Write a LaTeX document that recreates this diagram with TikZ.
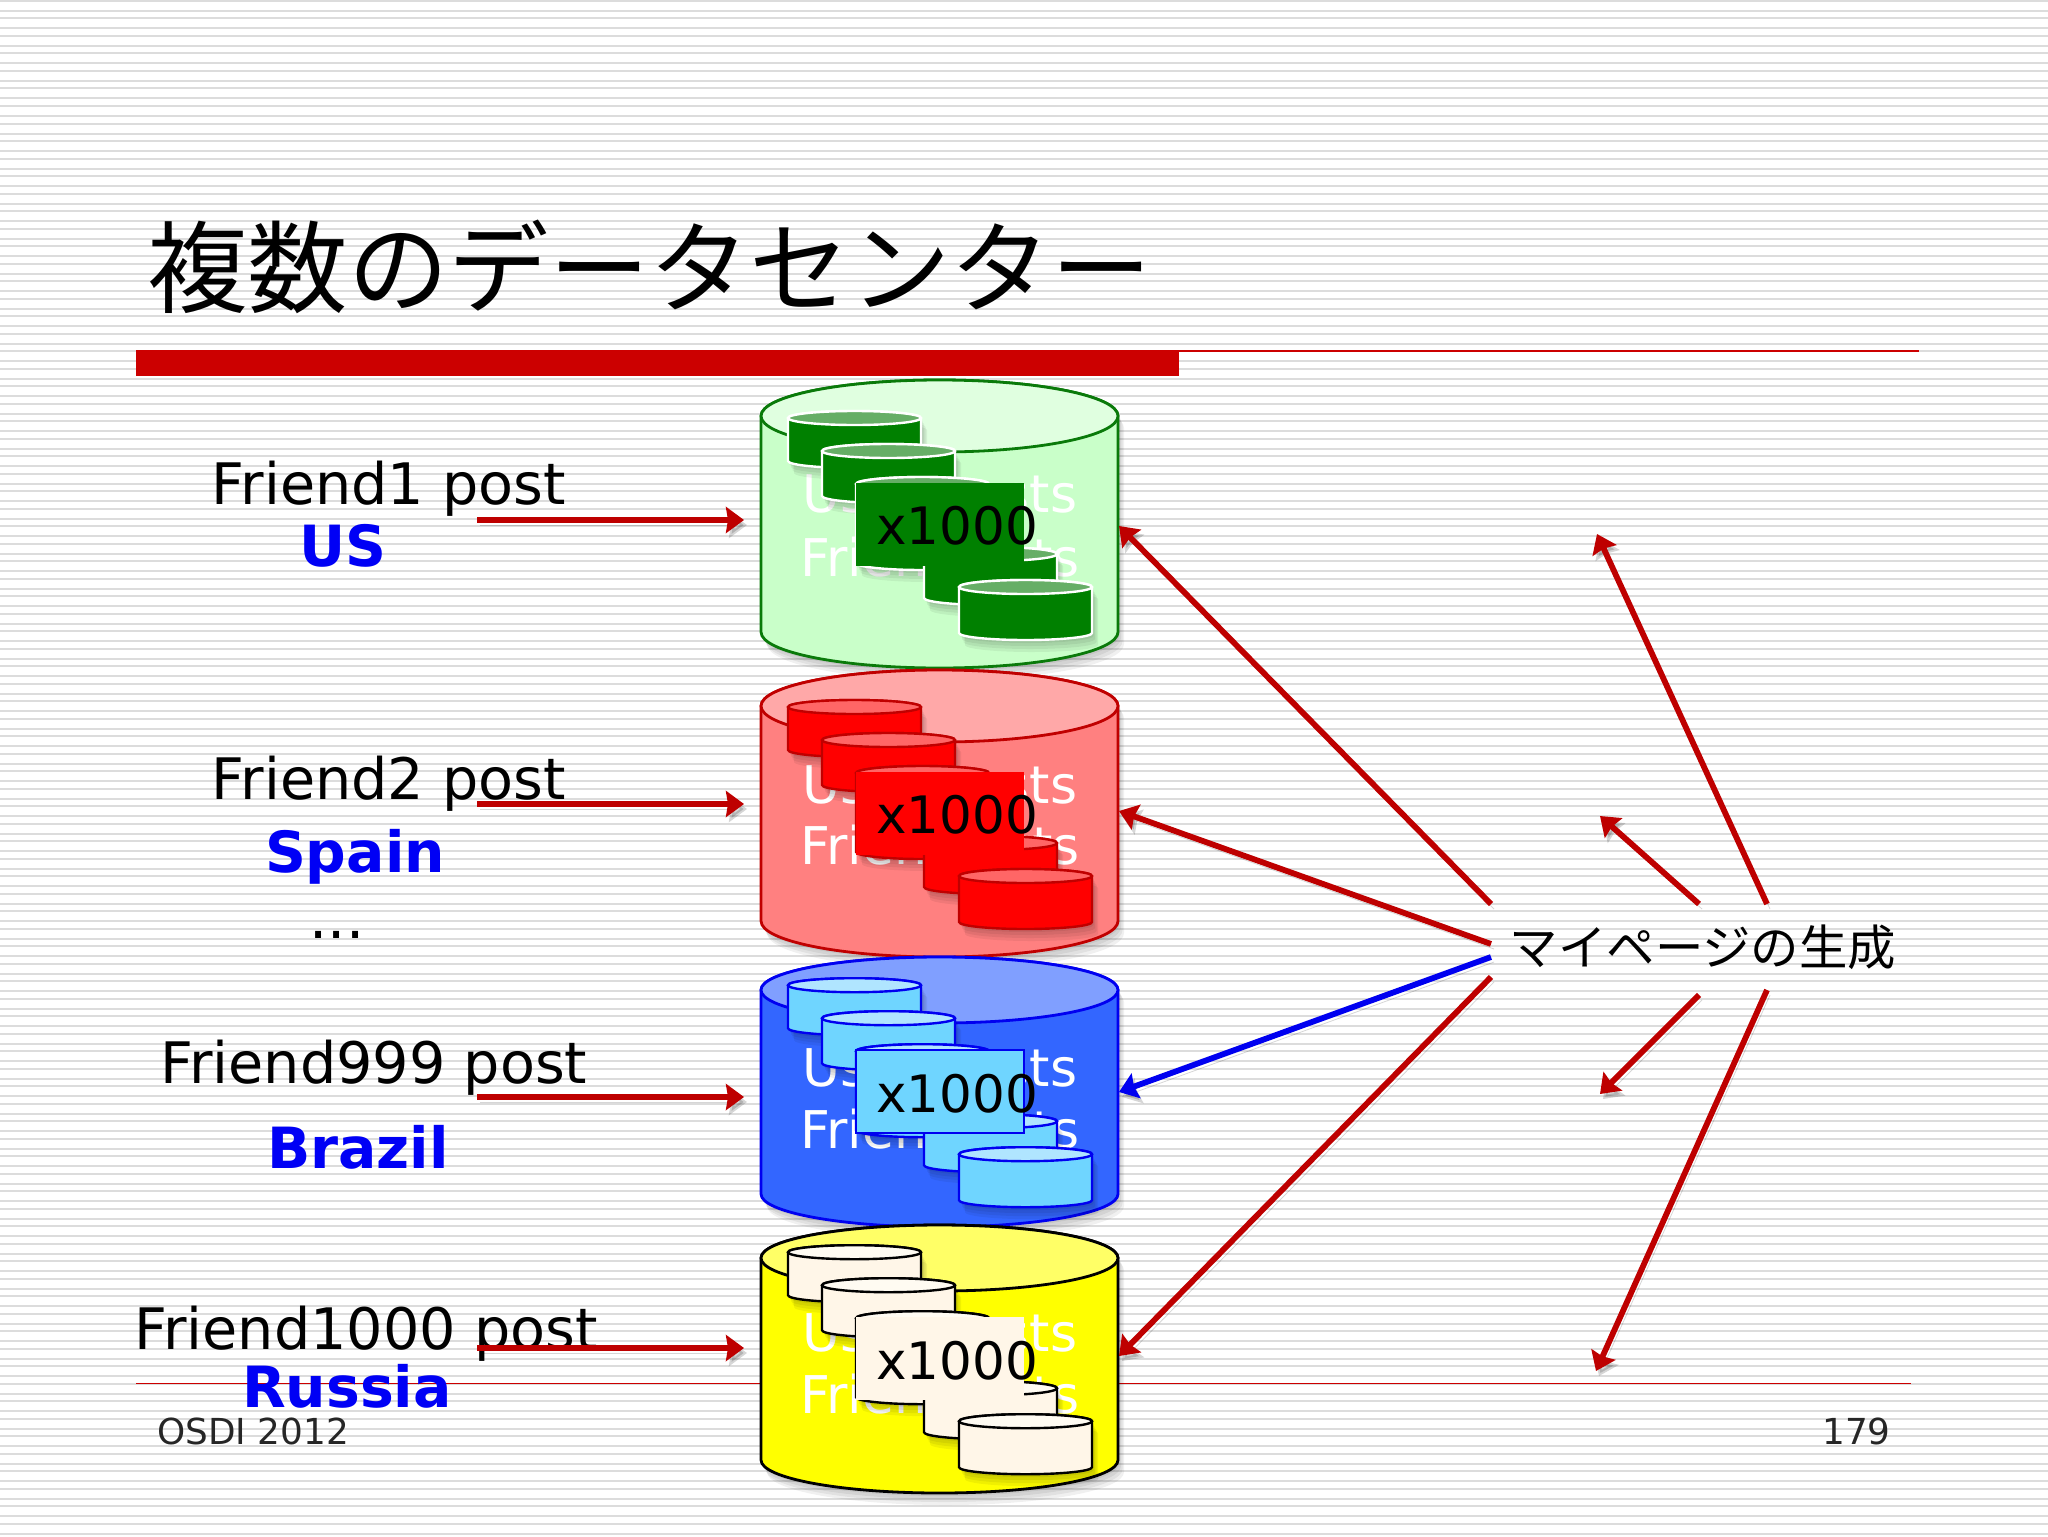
\documentclass[tikz,border=0pt]{standalone}
\usepackage{fontspec}
\usetikzlibrary{arrows.meta}
\setmainfont{DejaVu Sans}
\newfontfamily\cjkfont{Noto Sans CJK JP}
\definecolor{arrowred}{HTML}{BE0000}
\definecolor{arrowblue}{HTML}{0000F0}
\definecolor{barred}{HTML}{CC0000}
\definecolor{stripe}{HTML}{DCDCDC}
\definecolor{regionblue}{HTML}{0000F5}
\definecolor{gstroke}{HTML}{0A7A0A}
\definecolor{gbody}{HTML}{C9FFC9}
\definecolor{gtop}{HTML}{E0FFE0}
\definecolor{gsmall}{HTML}{008000}
\definecolor{gsmalltop}{HTML}{66AE66}
\definecolor{rstroke}{HTML}{C00000}
\definecolor{rbody}{HTML}{FF8080}
\definecolor{rtop}{HTML}{FFA8A8}
\definecolor{rsmall}{HTML}{FF0000}
\definecolor{rsmalltop}{HTML}{FF6666}
\definecolor{bstroke}{HTML}{0000F0}
\definecolor{bbody}{HTML}{3366FF}
\definecolor{btop}{HTML}{809FFF}
\definecolor{bsmall}{HTML}{6FD5FF}
\definecolor{bsmalltop}{HTML}{B0E5FF}
\definecolor{ybody}{HTML}{FFFF00}
\definecolor{ytop}{HTML}{FFFF66}
\definecolor{ysmall}{HTML}{FFF6E8}
\definecolor{ysmalltop}{HTML}{FFFBF2}
\tikzset{
  x=0.5pt,y=-0.5pt,
  postlbl/.style={font=\fontsize{28.6}{32}\selectfont,inner sep=0pt,text=black},
  regionlbl/.style={font=\fontsize{28.4}{32}\selectfont\bfseries,inner sep=0pt,text=regionblue},
  whitelbl/.style={font=\fontsize{26}{30}\selectfont,inner sep=0pt,text=white},
  footlbl/.style={font=\fontsize{17.9}{20}\selectfont,inner sep=0pt,text=black!85},
  countbox/.style={minimum width=84pt,minimum height=41.5pt,inner sep=0pt},
  countlbl/.style={font=\fontsize{25.8}{30}\selectfont,inner sep=0pt,text=black},
  softshadow/.style={preaction={draw=black,opacity=.16,transform canvas={shift={(1.5pt,-2.5pt)}}}},
  redarrow/.style={softshadow,draw=arrowred,line width=2.9pt,-{Stealth[inset=1pt,length=9pt,width=13pt]}},
  bluearrow/.style={softshadow,draw=arrowblue,line width=2.9pt,-{Stealth[inset=1pt,length=9pt,width=13pt]}},
}
% [line width]{x-left}{x-right}{y-top}{y-bottom}{ry}{stroke}{body}{top}
\newcommand{\canshape}[9][1.2pt]{%
  \foreach \sh in {3,6,9,12}{
    \fill[black,opacity=.06] ([yshift=-\sh*0.5pt,xshift=\sh*0.25pt]#2,#4+#6) arc[start angle=180,end angle=0,x radius={(#3-#2)*0.25pt},y radius={#6*0.5pt}]
      -- ([yshift=-\sh*0.5pt,xshift=\sh*0.25pt]#3,#5-#6) arc[start angle=0,end angle=-180,x radius={(#3-#2)*0.25pt},y radius={#6*0.5pt}] -- cycle;
  }
  \draw[line width=#1,draw=#7,fill=#8] (#2,#4+#6) arc[start angle=180,end angle=0,x radius={(#3-#2)*0.25pt},y radius={#6*0.5pt}]
      -- (#3,#5-#6) arc[start angle=0,end angle=-180,x radius={(#3-#2)*0.25pt},y radius={#6*0.5pt}] -- cycle;
  \draw[line width=#1,draw=#7,fill=#9] ({(#2+#3)/2},#4+#6) ellipse[x radius={(#3-#2)*0.25pt},y radius={#6*0.5pt}];
}
% {yc}{stroke}{body}{top}{name}{box stroke}
\newcommand{\stack}[6]{%
  \canshape{788}{921}{#1-113.5}{#1-56.5}{7}{#2}{#3}{#4}
  \canshape{822}{955}{#1-80.5}{#1-21.5}{7}{#2}{#3}{#4}
  \canshape{856}{989}{#1-47.5}{#1+45.5}{7}{#2}{#3}{#4}
  \canshape{924}{1057}{#1+22.5}{#1+80.5}{7}{#2}{#3}{#4}
  \node[countbox,fill=#3,#6] (box#5) at (940,#1) {};
  \canshape{959}{1092}{#1+55.5}{#1+115.5}{7}{#2}{#3}{#4}
  \node[countlbl,anchor=west] (cnt#5) at (876,#1+1.5) {x1000};
}
\begin{document}
\begin{tikzpicture}
\useasboundingbox (0,0) rectangle (2048,1536);
\fill[white] (0,0) rectangle (2048,1536);
\foreach \k in {0,...,87}{
  \fill[stripe] (0,{1+17.5*\k-1}) rectangle (2048,{1+17.5*\k+1});
  \fill[stripe] (0,{11+17.5*\k-1}) rectangle (2048,{11+17.5*\k+1});
}
% title and rules
\node[font=\cjkfont\fontsize{50.2}{54}\selectfont,anchor=west,inner sep=0pt] (title) at (147,267) {複数のデータセンター};
\fill[barred] (136,350) rectangle (1179,376);
\draw[barred,line width=.6pt] (1179,351) -- (1919,351);
\draw[barred,line width=.4pt] (136,1383) -- (1911,1383);
% footer
\node[footlbl,anchor=west] (foot) at (157,1431) {OSDI 2012};
\node[footlbl,anchor=east] (page) at (1891,1431) {179};
% left labels
\node[postlbl] (p1) at (389,489) {Friend1 post};
\node[regionlbl] (r1) at (343,546) {US};
\node[postlbl] (p2) at (389,784) {Friend2 post};
\node[regionlbl] (r2) at (355,857) {Spain};
\node[postlbl] (dots) at (337,935) {...};
\node[postlbl] (p3) at (374,1068) {Friend999 post};
\node[regionlbl] (r3) at (358,1147) {Brazil};
\node[postlbl] (p4) at (366,1334) {Friend1000 post};
\node[regionlbl] (r4) at (347,1386) {Russia};
% green
\canshape[1.4pt]{761}{1118}{380}{668}{36}{gstroke}{gbody}{gtop}
\node[whitelbl] (u1) at (940,499) {User posts};
\node[whitelbl] (f1) at (940,557) {Friend lists};
\stack{524.5}{white}{gsmall}{gsmalltop}{a}{}
% red
\canshape[1.4pt]{761}{1118}{670}{957}{36}{rstroke}{rbody}{rtop}
\node[whitelbl] (u2) at (940,790) {User posts};
\node[whitelbl] (f2) at (940,845) {Friend lists};
\stack{813.5}{rstroke}{rsmall}{rsmalltop}{b}{}
% blue
\canshape[1.4pt]{761}{1118}{957}{1227}{33}{bstroke}{bbody}{btop}
\node[whitelbl] (u3) at (940,1073) {User posts};
\node[whitelbl] (f3) at (940,1129) {Friend lists};
\stack{1091.7}{bstroke}{bsmall}{bsmalltop}{c}{draw=bstroke,line width=.8pt}
% yellow
\canshape[1.4pt]{761}{1118}{1225}{1493}{33}{black}{ybody}{ytop}
\node[whitelbl] (u4) at (940,1338) {User posts};
\node[whitelbl] (f4) at (940,1394) {Friend lists};
\stack{1358.7}{black}{ysmall}{ysmalltop}{d}{}
% right label
\node[font=\cjkfont\fontsize{24.2}{28}\selectfont,inner sep=0pt] (gen) at (1703,947) {マイページの生成};
% connector ends
\coordinate (l1) at (477,520); \coordinate (t1) at (744,520);
\coordinate (l2) at (477,804); \coordinate (t2) at (744,804);
\coordinate (l3) at (477,1097); \coordinate (t3) at (744,1097);
\coordinate (l4) at (477,1348); \coordinate (t4) at (744,1348);
\coordinate (s1) at (1491,904); \coordinate (e1) at (1119,526);
\coordinate (s2) at (1491,944); \coordinate (e2) at (1119,811);
\coordinate (s3) at (1491,957); \coordinate (e3) at (1119,1092);
\coordinate (s4) at (1491,977); \coordinate (e4) at (1119,1356);
\coordinate (s5) at (1699,904); \coordinate (e5) at (1600,816);
\coordinate (s6) at (1767,904); \coordinate (e6) at (1597,534);
\coordinate (s7) at (1699,995); \coordinate (e7) at (1600,1094);
\coordinate (s8) at (1767,990); \coordinate (e8) at (1596,1371);
\draw[redarrow] (l1) -- (t1);
\draw[redarrow] (l2) -- (t2);
\draw[redarrow] (l3) -- (t3);
\draw[redarrow] (l4) -- (t4);
\draw[redarrow] (s1) -- (e1);
\draw[redarrow] (s2) -- (e2);
\draw[bluearrow] (s3) -- (e3);
\draw[redarrow] (s4) -- (e4);
\draw[redarrow] (s5) -- (e5);
\draw[redarrow] (s6) -- (e6);
\draw[redarrow] (s7) -- (e7);
\draw[redarrow] (s8) -- (e8);
\end{tikzpicture}
\end{document}
